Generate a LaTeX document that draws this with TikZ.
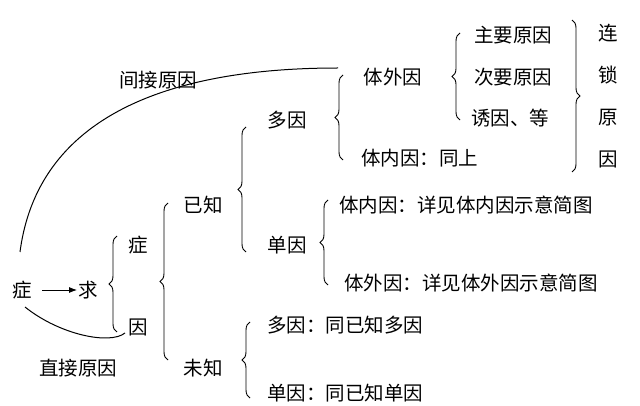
\documentclass[tikz,border=0pt]{standalone}
\usepackage{fontspec}
\setmainfont{Noto Sans CJK SC}
\usetikzlibrary{arrows.meta,decorations.pathreplacing}
\tikzstyle{lbl}=[font=\fontsize{19.5}{21}\selectfont,inner sep=1pt]
\tikzstyle{brc}=[line width=.9pt,decorate,decoration={brace,amplitude=8pt}]
\begin{document}
\begin{tikzpicture}[x=1pt,y=-1pt]
	\useasboundingbox (0,0) rectangle (640,406);
	\node[lbl] (zheng) at (22,290) {症};
	\node[lbl] (qiu) at (88,290) {求};
	\draw[line width=.9pt,-{Latex[length=8pt]}] (42,290) -- (qiu.west);
	% first level
	\draw[brc] (117,332) -- (117,236);
	\node[lbl] (zz) at (138,245) {症};
	\node[lbl] (yin) at (138,327) {因};
	\draw[brc] (168,360) -- (168,203);
	\node[lbl] (yz) at (203,205) {已知};
	\node[lbl] (wz) at (203,368) {未知};
	% known
	\draw[brc] (246,252) -- (246,127);
	\node[lbl] (dy) at (287,120) {多因};
	\node[lbl] (sy) at (287,245) {单因};
	\draw[brc] (343,160) -- (343,75);
	\node[lbl] (twy) at (393,77) {体外因};
	\node[lbl,anchor=west] (tny) at (360,158) {体内因：同上};
	\draw[brc] (460,120) -- (460,33);
	\node[lbl] (zy) at (513,35) {主要原因};
	\node[lbl] (cy) at (513,77) {次要原因};
	\node[lbl,anchor=west] (yy) at (470,118) {诱因、等};
	\draw[brc] (572,20) -- (572,172);
	\node[lbl,align=center,font=\fontsize{19.5}{42}\selectfont] (ls) at (608,96) {连\\锁\\原\\因};
	% single cause
	\draw[brc] (328,285) -- (328,200);
	\node[lbl,anchor=west] (tn2) at (338,205) {体内因：详见体内因示意简图};
	\node[lbl,anchor=west] (tw2) at (343,283) {体外因：详见体外因示意简图};
	% unknown
	\draw[brc] (250,398) -- (250,322);
	\node[lbl,anchor=west] (wd) at (266,325) {多因：同已知多因};
	\node[lbl,anchor=west] (wd2) at (266,393) {单因：同已知单因};
	% causes
	\draw[line width=1pt] (20,252) .. controls (40,100) and (200,68) .. (338,68);
	\node[lbl] (jj) at (158,80) {间接原因};
	\draw[line width=1pt] (25,307) .. controls (60,335) and (110,345) .. (125,333);
	\node[lbl] (zj) at (78,368) {直接原因};
\end{tikzpicture}
\end{document}
